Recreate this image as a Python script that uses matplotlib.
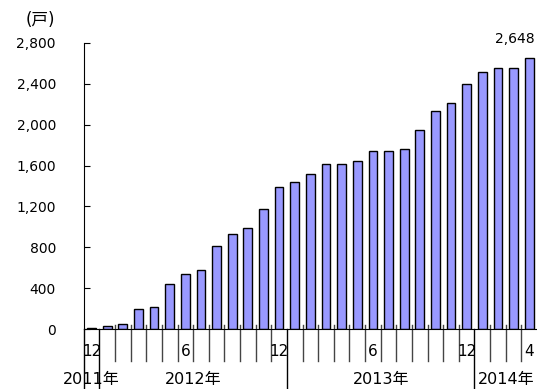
import matplotlib.pyplot as plt
from matplotlib.ticker import FuncFormatter

plt.rcParams['font.family'] = ['DejaVu Sans', 'Noto Sans CJK JP']

# 累計戸数（2011年12月～2014年4月、月次）
years = [2011] + [2012] * 12 + [2013] * 12 + [2014] * 4
months = [12] + list(range(1, 13)) + list(range(1, 13)) + [1, 2, 3, 4]
values = [15, 32, 49, 199, 215, 447, 545, 578, 809, 927, 992, 1175, 1387,
          1436, 1518, 1615, 1615, 1648, 1746, 1746, 1765, 1948, 2128, 2210,
          2392, 2510, 2555, 2555, 2648]
month_labels = ['12', '', '', '', '', '', '6', '', '', '', '', '', '12',
                '', '', '', '', '', '6', '', '', '', '', '', '12',
                '', '', '', '4']
year_labels = ['2011年', '2012年', '2013年', '2014年']

fig = plt.figure(figsize=(5.37, 3.89), dpi=100)
ax = fig.add_axes([0.1559, 0.1535, 0.8441, 0.7367])

x = list(range(len(values)))
ax.bar(x, values, width=0.56, color='#9999ff', edgecolor='black', linewidth=1.0)

ax.set_xlim(-0.5, len(values) - 0.5)
ax.set_ylim(0, 2800)
ax.set_yticks(range(0, 2801, 400))
ax.yaxis.set_major_formatter(FuncFormatter(lambda v, p: f'{v:,.0f}'))
ax.tick_params(axis='y', direction='in', length=4, pad=20, labelsize=10)
ax.set_xticks([])
for s in ['top', 'right']:
    ax.spines[s].set_visible(False)

# 月の区切り線と年の区切り線
trans = ax.get_xaxis_transform()
for i in range(len(values)):
    b = i - 0.5
    if i == 0 or years[i] != years[i - 1]:
        ax.plot([b, b], [0.0, -0.21], transform=trans, clip_on=False,
                color='black', lw=1.0)
    else:
        ax.plot([b, b], [0.0157, -0.1117], transform=trans, clip_on=False,
                color='#444444', lw=1.0)

for i, lab in enumerate(month_labels):
    if lab:
        ax.text(i, -0.079, lab, transform=trans, ha='center', va='center',
                fontsize=11)

for y, lab in zip(sorted(set(years)), year_labels):
    idx = [i for i in x if years[i] == y]
    ax.text(sum(idx) / len(idx), -0.174, lab, transform=trans,
            ha='center', va='center', fontsize=11.5)

ax.annotate(f'{values[-1]:,}', xy=(x[-1], values[-1]), xytext=(4, 14),
            textcoords='offset points', ha='right', va='center', fontsize=10)

fig.text(40 / 537, 1 - 20 / 389, '(戸)', ha='center', va='center', fontsize=12)

fig.savefig('out.png', dpi=100)
